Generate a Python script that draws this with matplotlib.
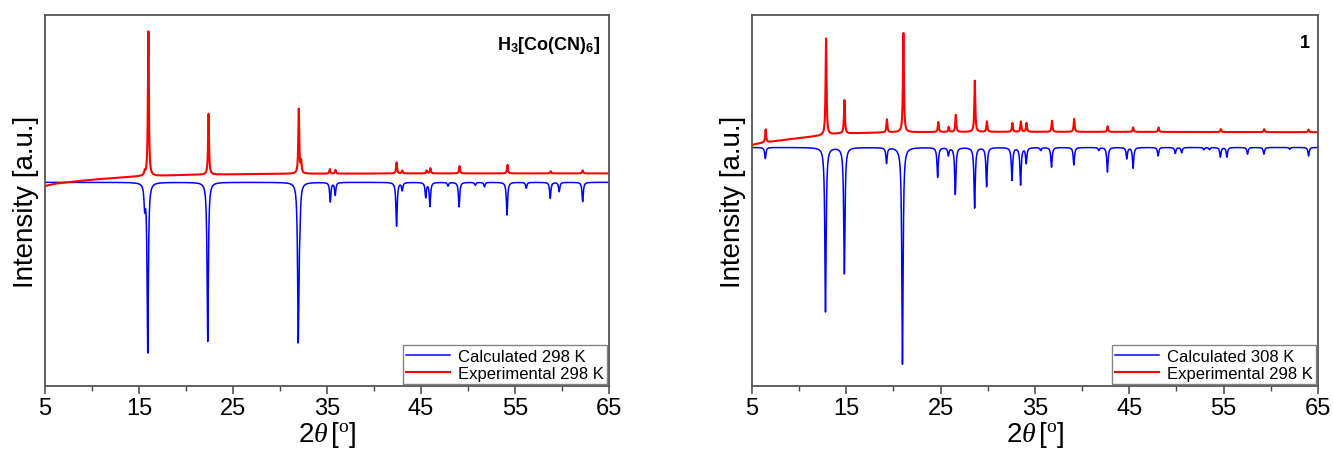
import numpy as np
import matplotlib
matplotlib.use("Agg")
import matplotlib.pyplot as plt

plt.rcParams['font.family'] = ['Liberation Sans', 'DejaVu Sans']
plt.rcParams['mathtext.fontset'] = 'custom'
plt.rcParams['mathtext.it'] = 'Liberation Serif:italic'
plt.rcParams['mathtext.rm'] = 'Liberation Serif'
plt.rcParams['mathtext.bf'] = 'Liberation Sans:bold'

# ---------------- data (intensity in arbitrary units) ----------------
# Panel A: H3[Co(CN)6]
a_calc_base = 0.549
a_calc_pos = [15.60, 15.93, 22.31, 31.94, 32.10, 35.35, 35.87, 42.40, 43.00, 45.50, 45.95,
              47.87, 49.05, 50.77, 51.75, 54.15, 56.20, 58.75, 59.70, 62.20]
a_calc_int = [0.057, 0.457, 0.429, 0.417, 0.080, 0.052, 0.034, 0.118, 0.021, 0.040, 0.064,
              0.010, 0.066, 0.008, 0.012, 0.088, 0.016, 0.043, 0.025, 0.052]
a_exp_base_x = [5, 6, 8, 10, 12, 15, 20, 30, 45, 65]
a_exp_base_y = [0.539, 0.545, 0.551, 0.556, 0.560, 0.565, 0.569, 0.572, 0.573, 0.573]
a_exp_pos = [15.60, 16.00, 22.40, 32.00, 32.25, 35.30, 35.90, 42.40, 43.00, 45.60, 46.00,
             49.10, 54.20, 58.80, 62.20]
a_exp_int = [0.010, 0.390, 0.164, 0.174, 0.030, 0.012, 0.010, 0.030, 0.008, 0.008, 0.014,
             0.020, 0.023, 0.006, 0.008]

# Panel B: compound 1
b_calc_base = 0.643
b_calc_pos = [6.41, 12.79, 14.79, 19.26, 20.95, 24.68, 25.82, 26.55, 28.60, 29.87, 32.56,
              33.47, 34.07, 35.60, 36.75, 39.12, 41.76, 42.68, 44.73, 45.40, 48.05, 49.87,
              50.55, 52.90, 53.50, 54.65, 55.34, 57.53, 59.26, 62.00, 64.00]
b_calc_int = [0.030, 0.443, 0.340, 0.042, 0.584, 0.080, 0.021, 0.126, 0.163, 0.105, 0.088,
              0.100, 0.042, 0.008, 0.053, 0.047, 0.008, 0.066, 0.030, 0.056, 0.023, 0.016,
              0.014, 0.006, 0.006, 0.026, 0.026, 0.018, 0.018, 0.005, 0.023]
b_exp_base_x = [5, 6, 8, 10, 12, 14, 20, 30, 45, 65]
b_exp_base_y = [0.650, 0.655, 0.662, 0.668, 0.674, 0.680, 0.684, 0.685, 0.685, 0.684]
b_exp_pos = [6.45, 12.85, 14.80, 19.30, 21.05, 24.75, 25.85, 26.60, 28.62, 29.90, 32.60,
             33.50, 34.10, 36.80, 39.15, 42.70, 45.40, 48.10, 54.70, 59.30, 64.00]
b_exp_int = [0.035, 0.260, 0.090, 0.035, 0.267, 0.027, 0.014, 0.046, 0.138, 0.028, 0.024,
             0.028, 0.024, 0.030, 0.035, 0.015, 0.012, 0.012, 0.008, 0.008, 0.007]

labels_a = ["Calculated 298 K", "Experimental 298 K"]
labels_b = ["Calculated 308 K", "Experimental 298 K"]
titles = [r"H$_\mathbf{3}$[Co(CN)$_\mathbf{6}$]", "1"]
xticks = [5, 15, 25, 35, 45, 55, 65]

# ---------------- rendering helpers ----------------
x = np.arange(5.0, 65.0001, 0.005)


def profile(pos, inten, fwhm, base):
    y = np.array(base, dtype=float) * np.ones_like(x)
    for p, h in zip(pos, inten):
        y = y + h / (1.0 + (2.0 * (x - p) / fwhm) ** 2)
    return y


fig = plt.figure(figsize=(13.33, 4.52), dpi=100)
W, H = 1333.0, 452.0
ax_a = fig.add_axes([45 / W, 1 - 387 / H, (609 - 45) / W, (387 - 16) / H])
ax_b = fig.add_axes([752 / W, 1 - 387 / H, (1318 - 752) / W, (387 - 16) / H])

panels = [
    (ax_a, a_calc_base, a_calc_pos, a_calc_int, a_exp_base_x, a_exp_base_y, a_exp_pos, a_exp_int, labels_a, titles[0]),
    (ax_b, b_calc_base, b_calc_pos, b_calc_int, b_exp_base_x, b_exp_base_y, b_exp_pos, b_exp_int, labels_b, titles[1]),
]

for ax, cb, cp, ci, ebx, eby, ep, ei, labs, title in panels:
    calc = profile(cp, -np.array(ci), 0.16, cb)
    ebase = np.interp(x, ebx, eby)
    exp = profile(ep, ei, 0.12, ebase)
    ax.plot(x, calc, color='#0000FF', lw=1.1, label=labs[0])
    ax.plot(x, exp, color='#FF0000', lw=1.5, label=labs[1])
    ax.set_xlim(5, 65)
    ax.set_ylim(0, 1)
    ax.set_xticks(xticks)
    ax.set_xticks([10, 20, 30, 40, 50, 60], minor=True)
    ax.set_yticks([])
    ax.tick_params(axis='x', which='major', direction='out', length=6, width=1.1,
                   color='#444444', labelsize=17, pad=2)
    ax.tick_params(axis='x', which='minor', direction='out', length=3.5, width=1.0,
                   color='#444444')
    for s in ax.spines.values():
        s.set_color('#555555')
        s.set_linewidth(1.3)
    ax.set_xlabel(r'2$\mathit{\theta}\,$[$^{\mathrm{o}}$]', fontsize=20, labelpad=0)
    ax.set_ylabel('Intensity [a.u.]', fontsize=20, labelpad=4)
    leg = ax.legend(loc='lower right', fontsize=12, frameon=True, fancybox=False,
                    borderaxespad=0.1, handlelength=2.6, handletextpad=0.5,
                    labelspacing=0.15, borderpad=0.2)
    leg.get_frame().set_edgecolor('#666666')
    leg.get_frame().set_linewidth(1.0)
    ax.text(0.985, 0.95, title, transform=ax.transAxes, ha='right', va='top',
            fontsize=13, fontweight='bold')

fig.savefig('out.png', dpi=100)
